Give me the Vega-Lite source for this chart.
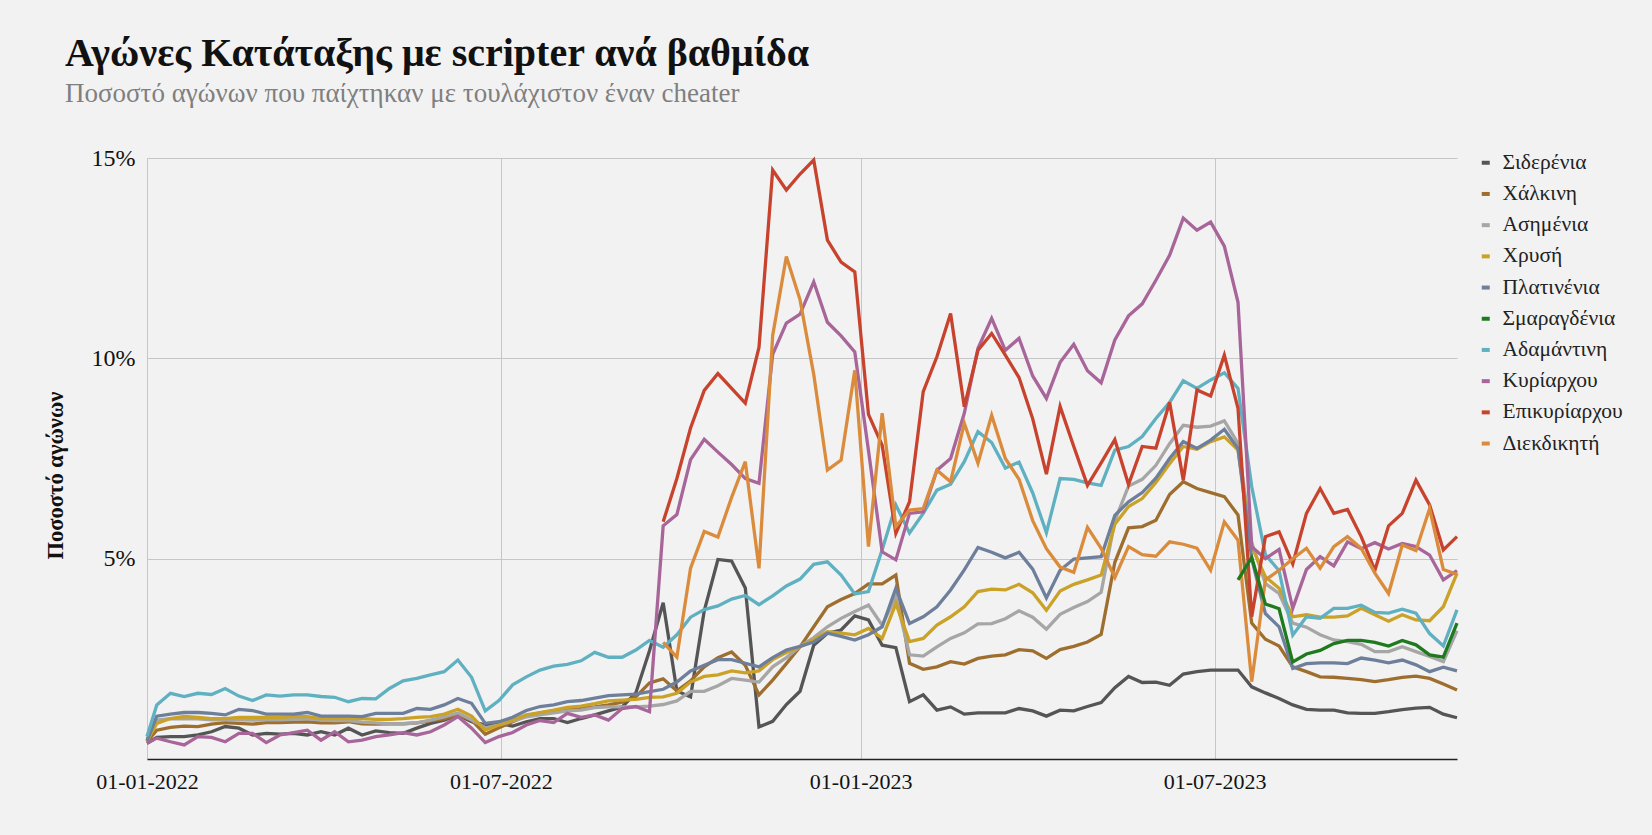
{
  "$schema": "https://vega.github.io/schema/vega-lite/v6.json",
  "width": 1310,
  "height": 601,
  "autosize": {"type": "none"},
  "padding": {"left": 147, "top": 158, "right": 195, "bottom": 76},
  "background": "#f2f2f2",
  "config": {
    "view": {"stroke": null},
    "font": "Liberation Serif"
  },
  "title": {
    "text": "Αγώνες Κατάταξης με scripter ανά βαθμίδα",
    "subtitle": "Ποσοστό αγώνων που παίχτηκαν με τουλάχιστον έναν cheater",
    "anchor": "start",
    "frame": "group",
    "dx": -82,
    "offset": 39,
    "font": "Liberation Serif",
    "fontSize": 40,
    "fontWeight": "bold",
    "color": "#111111",
    "subtitleFont": "Liberation Serif",
    "subtitleFontSize": 27,
    "subtitleColor": "#7f7f7f",
    "subtitlePadding": 7
  },
  "datasets": {
    "names": [
      {"k": "S", "n": "Σιδερένια"},
      {"k": "B", "n": "Χάλκινη"},
      {"k": "G", "n": "Ασημένια"},
      {"k": "Y", "n": "Χρυσή"},
      {"k": "P", "n": "Πλατινένια"},
      {"k": "E", "n": "Σμαραγδένια"},
      {"k": "T", "n": "Αδαμάντινη"},
      {"k": "M", "n": "Κυρίαρχου"},
      {"k": "R", "n": "Επικυρίαρχου"},
      {"k": "O", "n": "Διεκδικητή"}
    ]
  },
  "data": {
    "values": [
      {"d":"2022-01-01","S":0.39,"B":0.43,"G":0.5,"Y":0.45,"P":0.45,"T":0.56,"M":0.39},
      {"d":"2022-01-06","S":0.54,"B":0.72,"G":0.97,"Y":0.89,"P":1.07,"T":1.35,"M":0.52},
      {"d":"2022-01-13","S":0.56,"B":0.79,"G":1.01,"Y":1.01,"P":1.12,"T":1.64,"M":0.43},
      {"d":"2022-01-20","S":0.56,"B":0.82,"G":1.0,"Y":1.06,"P":1.16,"T":1.56,"M":0.35},
      {"d":"2022-01-27","S":0.6,"B":0.81,"G":1.0,"Y":1.04,"P":1.16,"T":1.64,"M":0.56},
      {"d":"2022-02-03","S":0.68,"B":0.87,"G":0.98,"Y":1.01,"P":1.14,"T":1.61,"M":0.54},
      {"d":"2022-02-10","S":0.81,"B":0.91,"G":0.98,"Y":1.01,"P":1.1,"T":1.76,"M":0.43},
      {"d":"2022-02-17","S":0.77,"B":0.89,"G":0.98,"Y":1.04,"P":1.24,"T":1.57,"M":0.64},
      {"d":"2022-02-24","S":0.6,"B":0.87,"G":0.97,"Y":1.04,"P":1.21,"T":1.46,"M":0.64},
      {"d":"2022-03-03","S":0.64,"B":0.91,"G":0.98,"Y":1.04,"P":1.12,"T":1.6,"M":0.41},
      {"d":"2022-03-10","S":0.62,"B":0.91,"G":0.98,"Y":1.04,"P":1.12,"T":1.57,"M":0.6},
      {"d":"2022-03-17","S":0.64,"B":0.92,"G":0.99,"Y":1.06,"P":1.12,"T":1.6,"M":0.66},
      {"d":"2022-03-24","S":0.6,"B":0.93,"G":1.0,"Y":1.06,"P":1.16,"T":1.6,"M":0.72},
      {"d":"2022-03-31","S":0.68,"B":0.9,"G":0.97,"Y":1.01,"P":1.07,"T":1.56,"M":0.47},
      {"d":"2022-04-07","S":0.6,"B":0.9,"G":0.96,"Y":1.01,"P":1.07,"T":1.54,"M":0.68},
      {"d":"2022-04-14","S":0.77,"B":0.93,"G":0.96,"Y":1.01,"P":1.07,"T":1.43,"M":0.43},
      {"d":"2022-04-21","S":0.6,"B":0.88,"G":0.92,"Y":1.01,"P":1.06,"T":1.51,"M":0.47},
      {"d":"2022-04-28","S":0.7,"B":0.87,"G":0.9,"Y":0.99,"P":1.14,"T":1.5,"M":0.56},
      {"d":"2022-05-05","S":0.66,"B":0.88,"G":0.88,"Y":0.99,"P":1.14,"T":1.76,"M":0.6},
      {"d":"2022-05-12","S":0.64,"B":0.88,"G":0.88,"Y":1.01,"P":1.14,"T":1.95,"M":0.66},
      {"d":"2022-05-19","S":0.77,"B":0.9,"G":0.9,"Y":1.04,"P":1.26,"T":2.01,"M":0.6},
      {"d":"2022-05-26","S":0.89,"B":0.95,"G":0.97,"Y":1.06,"P":1.24,"T":2.1,"M":0.68},
      {"d":"2022-06-02","S":0.97,"B":1.0,"G":1.05,"Y":1.12,"P":1.35,"T":2.18,"M":0.85},
      {"d":"2022-06-09","S":1.1,"B":1.1,"G":1.15,"Y":1.24,"P":1.51,"T":2.47,"M":1.06},
      {"d":"2022-06-16","S":0.93,"B":0.97,"G":0.98,"Y":1.07,"P":1.39,"T":2.04,"M":0.77},
      {"d":"2022-06-23","S":0.85,"B":0.62,"G":0.78,"Y":0.72,"P":0.89,"T":1.2,"M":0.41},
      {"d":"2022-06-30","S":0.89,"B":0.78,"G":0.85,"Y":0.85,"P":0.93,"T":1.46,"M":0.56},
      {"d":"2022-07-07","S":0.82,"B":0.93,"G":0.95,"Y":0.97,"P":1.04,"T":1.85,"M":0.66},
      {"d":"2022-07-14","S":0.93,"B":1.08,"G":1.05,"Y":1.1,"P":1.21,"T":2.05,"M":0.85},
      {"d":"2022-07-21","S":1.01,"B":1.15,"G":1.1,"Y":1.16,"P":1.31,"T":2.22,"M":0.96},
      {"d":"2022-07-28","S":1.01,"B":1.2,"G":1.15,"Y":1.22,"P":1.35,"T":2.32,"M":0.91},
      {"d":"2022-08-04","S":0.91,"B":1.22,"G":1.2,"Y":1.29,"P":1.43,"T":2.36,"M":1.14},
      {"d":"2022-08-11","S":1.01,"B":1.28,"G":1.22,"Y":1.32,"P":1.46,"T":2.45,"M":1.04},
      {"d":"2022-08-18","S":1.1,"B":1.3,"G":1.28,"Y":1.38,"P":1.52,"T":2.66,"M":1.1},
      {"d":"2022-08-25","S":1.2,"B":1.35,"G":1.3,"Y":1.45,"P":1.58,"T":2.54,"M":0.97},
      {"d":"2022-09-01","S":1.3,"B":1.42,"G":1.3,"Y":1.47,"P":1.6,"T":2.54,"M":1.26},
      {"d":"2022-09-08","S":1.65,"B":1.55,"G":1.3,"Y":1.49,"P":1.62,"T":2.72,"M":1.31},
      {"d":"2022-09-15","S":2.7,"B":1.9,"G":1.32,"Y":1.54,"P":1.68,"T":2.96,"M":1.18},
      {"d":"2022-09-22","S":3.9,"B":2.0,"G":1.36,"Y":1.55,"P":1.74,"T":2.79,"M":5.82,"R":5.92,"O":2.91},
      {"d":"2022-09-29","S":1.7,"B":1.7,"G":1.45,"Y":1.64,"P":1.92,"T":3.1,"M":6.1,"R":7.0,"O":2.54},
      {"d":"2022-10-06","S":1.55,"B":1.95,"G":1.69,"Y":1.92,"P":2.2,"T":3.54,"M":7.47,"R":8.26,"O":4.76},
      {"d":"2022-10-13","S":3.7,"B":2.3,"G":1.69,"Y":2.06,"P":2.34,"T":3.73,"M":7.98,"R":9.2,"O":5.68},
      {"d":"2022-10-20","S":4.98,"B":2.53,"G":1.83,"Y":2.1,"P":2.48,"T":3.82,"M":7.66,"R":9.62,"O":5.54},
      {"d":"2022-10-27","S":4.94,"B":2.67,"G":2.01,"Y":2.2,"P":2.48,"T":3.99,"M":7.35,"R":9.25,"O":6.53},
      {"d":"2022-11-03","S":4.27,"B":2.34,"G":1.97,"Y":2.15,"P":2.39,"T":4.08,"M":7.0,"R":8.88,"O":7.42},
      {"d":"2022-11-10","S":0.8,"B":1.6,"G":1.92,"Y":2.2,"P":2.3,"T":3.85,"M":6.88,"R":10.27,"O":4.76},
      {"d":"2022-11-17","S":0.94,"B":1.97,"G":2.3,"Y":2.48,"P":2.53,"T":4.07,"M":10.1,"R":14.7,"O":10.57},
      {"d":"2022-11-24","S":1.36,"B":2.38,"G":2.53,"Y":2.66,"P":2.72,"T":4.32,"M":10.88,"R":14.2,"O":12.54},
      {"d":"2022-12-01","S":1.69,"B":2.8,"G":2.81,"Y":2.8,"P":2.81,"T":4.49,"M":11.1,"R":14.6,"O":11.46},
      {"d":"2022-12-08","S":2.84,"B":3.3,"G":3.03,"Y":2.98,"P":2.92,"T":4.86,"M":11.91,"R":14.95,"O":9.6},
      {"d":"2022-12-15","S":3.14,"B":3.8,"G":3.3,"Y":3.18,"P":3.14,"T":4.92,"M":10.9,"R":12.95,"O":7.21},
      {"d":"2022-12-22","S":3.22,"B":3.98,"G":3.51,"Y":3.14,"P":3.06,"T":4.59,"M":10.56,"R":12.4,"O":7.46},
      {"d":"2022-12-29","S":3.57,"B":4.13,"G":3.68,"Y":3.1,"P":2.97,"T":4.12,"M":10.16,"R":12.16,"O":9.7},
      {"d":"2023-01-05","S":3.47,"B":4.37,"G":3.84,"Y":3.26,"P":3.1,"T":4.18,"M":7.7,"R":8.6,"O":5.3},
      {"d":"2023-01-12","S":2.84,"B":4.37,"G":3.34,"Y":3.01,"P":3.3,"T":5.22,"M":5.17,"R":7.83,"O":8.63},
      {"d":"2023-01-19","S":2.78,"B":4.59,"G":4.05,"Y":3.88,"P":4.26,"T":6.34,"M":4.97,"R":5.63,"O":5.8},
      {"d":"2023-01-26","S":1.43,"B":2.39,"G":2.6,"Y":2.93,"P":3.38,"T":5.64,"M":6.13,"R":6.42,"O":6.21},
      {"d":"2023-02-02","S":1.6,"B":2.24,"G":2.57,"Y":3.01,"P":3.55,"T":6.13,"M":6.17,"R":9.17,"O":6.25},
      {"d":"2023-02-09","S":1.22,"B":2.3,"G":2.8,"Y":3.34,"P":3.8,"T":6.71,"M":7.21,"R":10.04,"O":7.21},
      {"d":"2023-02-16","S":1.3,"B":2.43,"G":3.01,"Y":3.55,"P":4.22,"T":6.86,"M":7.5,"R":11.12,"O":6.92},
      {"d":"2023-02-23","S":1.12,"B":2.37,"G":3.15,"Y":3.8,"P":4.72,"T":7.42,"M":8.63,"R":8.79,"O":8.38},
      {"d":"2023-03-02","S":1.15,"B":2.51,"G":3.37,"Y":4.18,"P":5.28,"T":8.17,"M":10.25,"R":10.2,"O":7.38},
      {"d":"2023-03-09","S":1.15,"B":2.57,"G":3.38,"Y":4.24,"P":5.16,"T":7.9,"M":11.0,"R":10.62,"O":8.58},
      {"d":"2023-03-16","S":1.15,"B":2.6,"G":3.5,"Y":4.22,"P":5.02,"T":7.26,"M":10.2,"R":10.08,"O":7.5},
      {"d":"2023-03-23","S":1.26,"B":2.73,"G":3.7,"Y":4.36,"P":5.16,"T":7.41,"M":10.5,"R":9.52,"O":6.98},
      {"d":"2023-03-30","S":1.2,"B":2.7,"G":3.54,"Y":4.15,"P":4.74,"T":6.64,"M":9.56,"R":8.49,"O":5.95},
      {"d":"2023-04-06","S":1.07,"B":2.51,"G":3.24,"Y":3.71,"P":4.02,"T":5.65,"M":9.0,"R":7.11,"O":5.25},
      {"d":"2023-04-13","S":1.22,"B":2.73,"G":3.61,"Y":4.19,"P":4.71,"T":7.0,"M":9.9,"R":8.8,"O":4.79},
      {"d":"2023-04-20","S":1.2,"B":2.81,"G":3.78,"Y":4.36,"P":4.99,"T":6.98,"M":10.35,"R":7.8,"O":4.66},
      {"d":"2023-04-27","S":1.31,"B":2.92,"G":3.93,"Y":4.47,"P":5.02,"T":6.89,"M":9.69,"R":6.83,"O":5.78},
      {"d":"2023-05-04","S":1.41,"B":3.11,"G":4.16,"Y":4.59,"P":5.05,"T":6.83,"M":9.39,"R":7.39,"O":5.26},
      {"d":"2023-05-11","S":1.78,"B":4.91,"G":5.95,"Y":5.86,"P":6.08,"T":7.71,"M":10.46,"R":7.97,"O":4.53},
      {"d":"2023-05-18","S":2.06,"B":5.77,"G":6.81,"Y":6.3,"P":6.42,"T":7.8,"M":11.06,"R":6.85,"O":5.3},
      {"d":"2023-05-25","S":1.91,"B":5.8,"G":6.98,"Y":6.5,"P":6.65,"T":8.05,"M":11.36,"R":7.8,"O":5.1},
      {"d":"2023-06-01","S":1.92,"B":5.96,"G":7.33,"Y":6.9,"P":7.01,"T":8.5,"M":11.95,"R":7.76,"O":5.06},
      {"d":"2023-06-08","S":1.84,"B":6.6,"G":7.87,"Y":7.37,"P":7.5,"T":8.9,"M":12.57,"R":8.9,"O":5.42},
      {"d":"2023-06-15","S":2.12,"B":6.92,"G":8.33,"Y":7.8,"P":7.92,"T":9.44,"M":13.5,"R":6.96,"O":5.36},
      {"d":"2023-06-22","S":2.18,"B":6.75,"G":8.28,"Y":7.73,"P":7.75,"T":9.25,"M":13.2,"R":9.21,"O":5.26},
      {"d":"2023-06-29","S":2.22,"B":6.65,"G":8.31,"Y":7.92,"P":7.96,"T":9.46,"M":13.4,"R":9.06,"O":4.71},
      {"d":"2023-07-06","S":2.22,"B":6.55,"G":8.44,"Y":8.04,"P":8.23,"T":9.64,"M":12.8,"R":10.08,"O":5.92},
      {"d":"2023-07-13","S":2.22,"B":6.09,"G":7.88,"Y":7.71,"P":7.75,"E":4.47,"T":9.25,"M":11.4,"R":8.75,"O":5.46},
      {"d":"2023-07-20","S":1.8,"B":3.39,"G":5.4,"Y":5.3,"P":5.0,"E":5.03,"T":6.8,"M":5.3,"R":3.55,"O":1.93},
      {"d":"2023-07-27","S":1.65,"B":2.99,"G":4.38,"Y":4.55,"P":3.63,"E":3.87,"T":5.1,"M":5.0,"R":5.55,"O":4.47},
      {"d":"2023-08-03","S":1.51,"B":2.82,"G":4.13,"Y":4.26,"P":3.3,"E":3.75,"T":4.7,"M":5.23,"R":5.67,"O":4.71},
      {"d":"2023-08-10","S":1.35,"B":2.3,"G":3.39,"Y":3.55,"P":2.26,"E":2.42,"T":3.09,"M":3.76,"R":4.87,"O":5.0},
      {"d":"2023-08-17","S":1.24,"B":2.18,"G":3.29,"Y":3.6,"P":2.38,"E":2.62,"T":3.55,"M":4.73,"R":6.13,"O":5.26},
      {"d":"2023-08-24","S":1.22,"B":2.05,"G":3.1,"Y":3.54,"P":2.4,"E":2.71,"T":3.51,"M":5.05,"R":6.75,"O":4.76},
      {"d":"2023-08-31","S":1.22,"B":2.04,"G":2.97,"Y":3.54,"P":2.4,"E":2.88,"T":3.76,"M":4.82,"R":6.13,"O":5.3},
      {"d":"2023-09-07","S":1.15,"B":2.01,"G":2.93,"Y":3.57,"P":2.38,"E":2.96,"T":3.76,"M":5.42,"R":6.23,"O":5.55},
      {"d":"2023-09-14","S":1.14,"B":1.98,"G":2.86,"Y":3.76,"P":2.52,"E":2.96,"T":3.84,"M":5.25,"R":5.55,"O":5.26},
      {"d":"2023-09-21","S":1.14,"B":1.93,"G":2.68,"Y":3.6,"P":2.47,"E":2.91,"T":3.66,"M":5.4,"R":4.71,"O":4.64},
      {"d":"2023-09-28","S":1.18,"B":1.98,"G":2.68,"Y":3.44,"P":2.4,"E":2.82,"T":3.64,"M":5.24,"R":5.82,"O":4.13},
      {"d":"2023-10-05","S":1.23,"B":2.04,"G":2.8,"Y":3.6,"P":2.47,"E":2.96,"T":3.74,"M":5.38,"R":6.13,"O":5.34},
      {"d":"2023-10-12","S":1.27,"B":2.07,"G":2.68,"Y":3.47,"P":2.35,"E":2.85,"T":3.64,"M":5.3,"R":6.96,"O":5.2},
      {"d":"2023-10-19","S":1.29,"B":2.01,"G":2.56,"Y":3.45,"P":2.18,"E":2.6,"T":3.13,"M":5.09,"R":6.34,"O":6.25},
      {"d":"2023-10-26","S":1.12,"B":1.87,"G":2.43,"Y":3.8,"P":2.29,"E":2.54,"T":2.82,"M":4.47,"R":5.22,"O":4.73},
      {"d":"2023-11-02","S":1.03,"B":1.72,"G":3.2,"Y":4.63,"P":2.2,"E":3.39,"T":3.72,"M":4.7,"R":5.55,"O":4.61}
    ]
  },
  "transform": [
    {"fold": ["S", "B", "G", "Y", "P", "E", "T", "M", "R", "O"], "as": ["k", "v"]},
    {"filter": "isValid(datum.v)"},
    {"lookup": "k", "from": {"data": {"name": "names"}, "key": "k", "fields": ["n"]}}
  ],
  "mark": {"type": "line", "strokeWidth": 3.3, "strokeJoin": "miter"},
  "encoding": {
    "x": {
      "field": "d",
      "type": "temporal",
      "scale": {
        "type": "utc",
        "domain": [
          {"year": 2022, "month": 1, "date": 1, "utc": true},
          {"year": 2023, "month": 11, "date": 2, "utc": true}
        ],
        "nice": false
      },
      "axis": {
        "values": [
          {"year": 2022, "month": 1, "date": 1, "utc": true},
          {"year": 2022, "month": 7, "date": 1, "utc": true},
          {"year": 2023, "month": 1, "date": 1, "utc": true},
          {"year": 2023, "month": 7, "date": 1, "utc": true}
        ],
        "format": "%d-%m-%Y",
        "title": null,
        "grid": true,
        "gridColor": "#c6c6c6",
        "gridWidth": 1,
        "ticks": false,
        "domainColor": "#222222",
        "domainWidth": 1.5,
        "labelFont": "Liberation Serif",
        "labelFontSize": 22,
        "labelColor": "#111111",
        "labelPadding": 12,
        "labelFlush": false
      }
    },
    "y": {
      "field": "v",
      "type": "quantitative",
      "scale": {"domain": [0, 15], "nice": false},
      "axis": {
        "values": [5, 10, 15],
        "labelExpr": "datum.value + '%'",
        "grid": true,
        "gridColor": "#c6c6c6",
        "gridWidth": 1,
        "domain": false,
        "ticks": false,
        "labelFont": "Liberation Serif",
        "labelFontSize": 24,
        "labelColor": "#111111",
        "labelPadding": 12,
        "title": "Ποσοστό αγώνων",
        "titleFont": "Liberation Serif",
        "titleFontSize": 22.5,
        "titleFontWeight": "bold",
        "titleColor": "#111111",
        "titleAngle": -90,
        "titleX": -92,
        "titleY": 317,
        "titleAlign": "center",
        "titleBaseline": "middle"
      }
    },
    "color": {
      "field": "n",
      "type": "nominal",
      "scale": {
        "domain": ["Σιδερένια", "Χάλκινη", "Ασημένια", "Χρυσή", "Πλατινένια", "Σμαραγδένια", "Αδαμάντινη", "Κυρίαρχου", "Επικυρίαρχου", "Διεκδικητή"],
        "range": ["#555555", "#9e6e2e", "#a6a6a6", "#c9a227", "#6e7f9b", "#1f7a1f", "#5fb0c0", "#a8659a", "#c8432d", "#da8c3c"]
      },
      "legend": {
        "orient": "none",
        "legendX": 1328,
        "legendY": -6,
        "title": null,
        "symbolType": "stroke",
        "symbolSize": 64,
        "symbolStrokeWidth": 4,
        "labelFont": "Liberation Serif",
        "labelFontSize": 21.5,
        "labelColor": "#222222",
        "rowPadding": 8.2,
        "labelOffset": 6
      }
    }
  }
}
